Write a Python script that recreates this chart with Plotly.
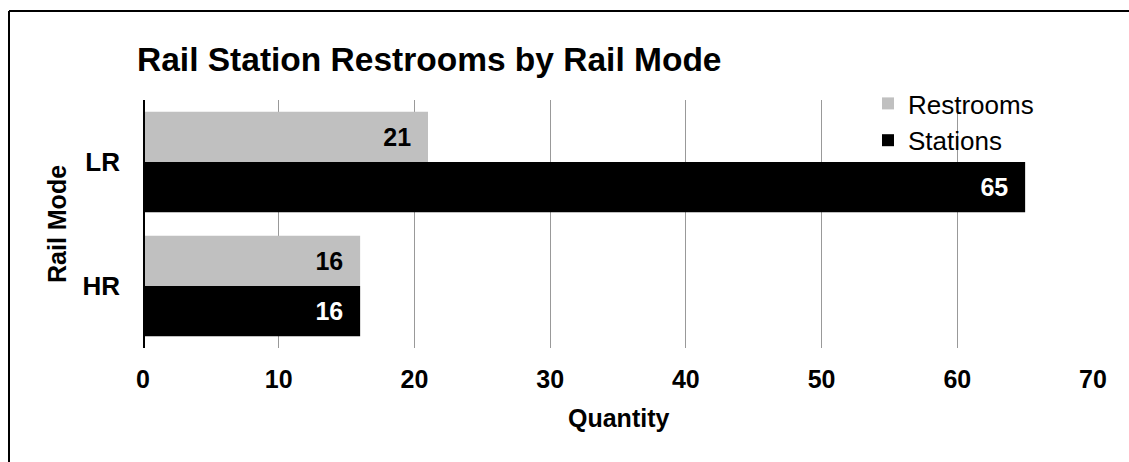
import plotly.graph_objects as go

# Rail modes and counts
modes = ["HR", "LR"]
restrooms = [16, 21]
stations = [16, 65]
x_ticks = [0, 10, 20, 30, 40, 50, 60, 70]

W, H = 1129, 462
M_L, M_R, M_T, M_B = 143, 36, 100, 114
PW, PH = W - M_L - M_R, H - M_T - M_B

FONT = "Arial, Liberation Sans, sans-serif"


def px_to_paper(px, py):
    return (px - M_L) / PW, (H - M_B - py) / PH


# value labels sit a little in from the bar end
LABEL_TEMPLATE = "%{x}&nbsp;&nbsp;"

fig = go.Figure()
fig.add_trace(go.Bar(
    name="Stations", y=modes, x=stations, orientation="h",
    marker=dict(color="#000000", line=dict(width=0)),
    texttemplate=LABEL_TEMPLATE, textposition="inside", insidetextanchor="end",
    textfont=dict(family=FONT, size=25, color="white", weight="bold"),
))
fig.add_trace(go.Bar(
    name="Restrooms", y=modes, x=restrooms, orientation="h",
    marker=dict(color="#c0c0c0", line=dict(width=0)),
    texttemplate=LABEL_TEMPLATE, textposition="inside", insidetextanchor="end",
    textfont=dict(family=FONT, size=25, color="black", weight="bold"),
))

# outer frame: top and left edges
x0, y0 = px_to_paper(9, 11)
x1, _ = px_to_paper(W + 5, 11)
_, y1 = px_to_paper(9, H + 5)
shapes = [
    dict(type="line", xref="paper", yref="paper", x0=x0, x1=x1, y0=y0, y1=y0,
         line=dict(color="black", width=2)),
    dict(type="line", xref="paper", yref="paper", x0=x0, x1=x0, y0=y0, y1=y1,
         line=dict(color="black", width=2)),
    # thick category axis line at zero
    dict(type="line", xref="x", yref="paper", x0=0, x1=0, y0=0, y1=1,
         line=dict(color="black", width=4), layer="above"),
]

ax_title_x, ax_title_y = px_to_paper(618, 418)
ay_title_x, ay_title_y = px_to_paper(57, 224)
annotations = [
    dict(text="<b>Quantity</b>", xref="paper", yref="paper", x=ax_title_x, y=ax_title_y,
         showarrow=False, xanchor="center", yanchor="middle",
         font=dict(family=FONT, size=25, color="black")),
    dict(text="<b>Rail Mode</b>", xref="paper", yref="paper", x=ay_title_x, y=ay_title_y,
         showarrow=False, xanchor="center", yanchor="middle", textangle=-90,
         font=dict(family=FONT, size=25, color="black")),
]

fig.update_layout(
    width=W, height=H,
    margin=dict(l=M_L, r=M_R, t=M_T, b=M_B),
    paper_bgcolor="white", plot_bgcolor="white",
    barmode="group", bargap=0.19, bargroupgap=0,
    title=dict(text="<b>Rail Station Restrooms by Rail Mode</b>",
               x=137 / W, xanchor="left", xref="container",
               y=1 - 59 / H, yanchor="middle", yref="container",
               font=dict(family=FONT, size=33.5, color="black")),
    xaxis=dict(range=[0, 70], tickvals=x_ticks, showgrid=True, gridcolor="#999999",
               gridwidth=1, zeroline=False, showline=False, ticks="",
               tickfont=dict(family=FONT, size=25, color="black", weight="bold"),
               ticklabelstandoff=14, fixedrange=True),
    yaxis=dict(categoryorder="array", categoryarray=modes, showgrid=False,
               zeroline=False, showline=False, ticks="",
               tickfont=dict(family=FONT, size=26, color="black", weight="bold"),
               ticklabelstandoff=22),
    legend=dict(x=px_to_paper(868, 0)[0], y=px_to_paper(0, 80)[1],
                xanchor="left", yanchor="top", traceorder="reversed",
                font=dict(family=FONT, size=26, color="black"),
                bgcolor="rgba(0,0,0,0)", itemsizing="constant"),
    showlegend=True,
    shapes=shapes,
    annotations=annotations,
)

fig.write_html("out.html")
